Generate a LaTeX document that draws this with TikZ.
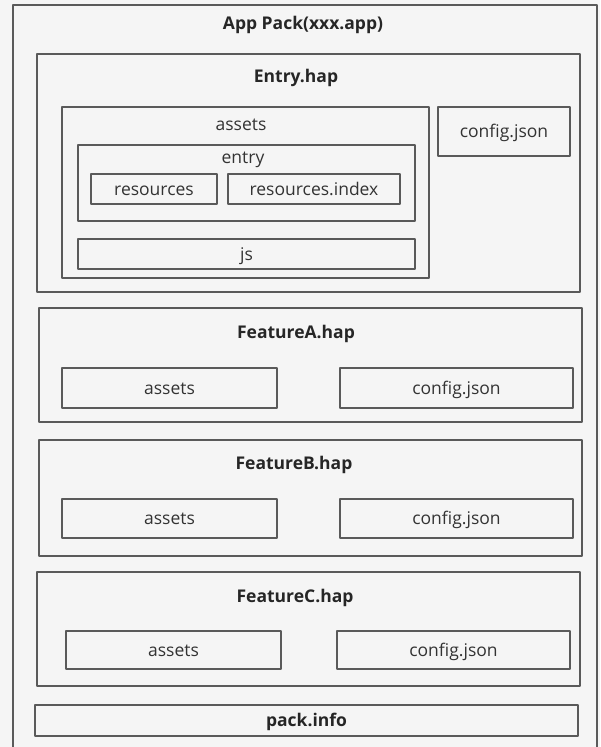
\documentclass[tikz,border=0pt]{standalone}
\usepackage{fontspec}
\setmainfont{Open Sans}
\begin{document}
\begin{tikzpicture}[x=1pt, y=-1pt, line join=round, font=\fontsize{17.5}{20}\selectfont]
	\tikzset{box/.style={draw=boxgray, line width=1.3pt, inner sep=0pt},
		head/.style={font=\fontsize{17.5}{20}\selectfont\bfseries, text=black!85},
		leaf/.style={box, text=black!80, text height=12pt, text depth=0pt}}
	\definecolor{boxgray}{HTML}{5A5A5A}
	\fill[white!96!black] (0,0) rectangle (600,747);
	\useasboundingbox (0,0) rectangle (600,747);
	\clip (0,0) rectangle (600,747);
	% outer pack, open at the bottom
	\draw[draw=boxgray, line width=1.3pt] (13,760) -- (13,5) -- (597,5) -- (597,760);
	\node[head] (apptitle) at (303,25) {App Pack(xxx.app)};
	% Entry.hap
	\node[box, minimum width=543, minimum height=238] (entryhap) at (308.5,173) {};
	\node[head] (entrytitle) at (296,78) {Entry.hap};
	\node[box, minimum width=367, minimum height=171] (assets0) at (245.5,192.5) {};
	\node[text=black!80] (assetstitle) at (241,125) {assets};
	\node[box, minimum width=337, minimum height=76] (entrydir) at (246.5,183) {};
	\node[text=black!80] (entrytext) at (243,160) {entry};
	\node[leaf, minimum width=126, minimum height=30] (res) at (154,189) {resources};
	\node[leaf, minimum width=172, minimum height=30] (resindex) at (314,189) {resources.index};
	\node[leaf, minimum width=337, minimum height=30] (js) at (246.5,254) {js};
	\node[leaf, minimum width=132, minimum height=49] (cfg0) at (504,131.5) {config.json};
	% FeatureA.hap
	\node[box, minimum width=543, minimum height=114] (fahap) at (310.5,365) {};
	\node[head] (fatitle) at (296,334) {FeatureA.hap};
	\node[leaf, minimum width=215, minimum height=40] (assetsa) at (169.5,388) {assets};
	\node[leaf, minimum width=233, minimum height=40] (cfga) at (456.5,388) {config.json};
	% FeatureB.hap
	\node[box, minimum width=543, minimum height=116] (fbhap) at (310.5,498) {};
	\node[head] (fbtitle) at (294,465) {FeatureB.hap};
	\node[leaf, minimum width=215, minimum height=39] (assetsb) at (169.5,518.5) {assets};
	\node[leaf, minimum width=233, minimum height=39] (cfgb) at (456.5,518.5) {config.json};
	% FeatureC.hap
	\node[box, minimum width=543, minimum height=114] (fchap) at (308.5,629) {};
	\node[head] (fctitle) at (295,598) {FeatureC.hap};
	\node[leaf, minimum width=215, minimum height=38] (assetsc) at (173.5,650) {assets};
	\node[leaf, minimum width=233, minimum height=38] (cfgc) at (453.5,650) {config.json};
	% pack.info
	\node[box, minimum width=543, minimum height=31, head, text height=12pt, text depth=0pt] (packinfo) at (306.5,720.5) {pack.info};
\end{tikzpicture}
\end{document}
